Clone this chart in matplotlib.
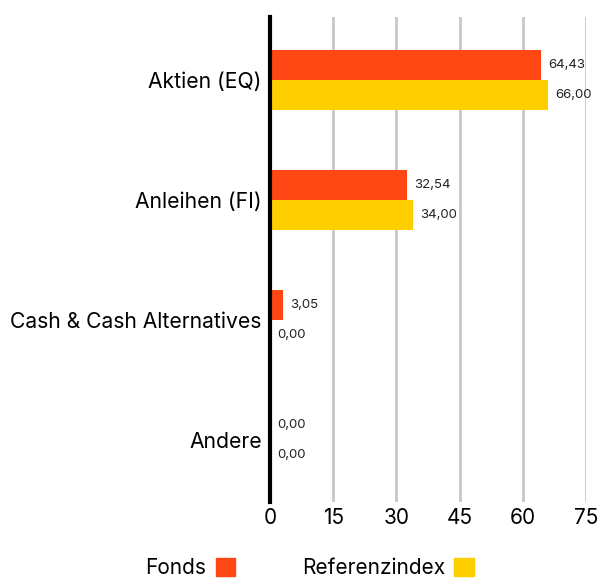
import numpy as np
import matplotlib.pyplot as plt
from matplotlib.patches import Patch

# ---- Data -------------------------------------------------------------------
categories = ["Aktien (EQ)", "Anleihen (FI)", "Cash & Cash Alternatives", "Andere"]
fonds = [64.43, 32.54, 3.05, 0.00]
referenz = [66.00, 34.00, 0.00, 0.00]
series_names = ["Fonds", "Referenzindex"]
xticks = [0, 15, 30, 45, 60, 75]

orange = "#FF4713"
yellow = "#FFCE00"

plt.rcParams["font.family"] = ["Inter", "DejaVu Sans"]

fig = plt.figure(figsize=(5.98, 5.83), dpi=100)
ax = fig.add_axes([0.4515, 0.139, 0.5285, 0.832])

y = np.arange(len(categories))
h = 0.25
ax.barh(y - h / 2, fonds, height=h, color=orange, label=series_names[0])
ax.barh(y + h / 2, referenz, height=h, color=yellow, label=series_names[1])

def fmt(v):
    return f"{v:.2f}".replace(".", ",")

for yi, v in zip(y - h / 2, fonds):
    ax.annotate(fmt(v), (v, yi), xytext=(5, 0), textcoords="offset points",
                va="center", ha="left", fontsize=9.5, color="#222222")
for yi, v in zip(y + h / 2, referenz):
    ax.annotate(fmt(v), (v, yi), xytext=(5, 0), textcoords="offset points",
                va="center", ha="left", fontsize=9.5, color="#222222")

ax.set_xlim(0, 75)
ax.set_ylim(3.52, -0.525)
ax.set_xticks(xticks)
ax.set_yticks(y)
ax.set_yticklabels(categories, fontsize=15.2)
ax.tick_params(axis="x", length=0, labelsize=15, pad=4)
ax.tick_params(axis="y", length=0, pad=6)

ax.grid(axis="x", color="#c8c8c8", linewidth=2)
ax.set_axisbelow(True)
for s in ["top", "right", "bottom"]:
    ax.spines[s].set_visible(False)
ax.spines["left"].set_linewidth(3)
ax.spines["left"].set_color("black")
ax.spines["left"].set_zorder(5)

handles = [Patch(color=orange), Patch(color=yellow)]
fig.legend(handles, series_names, loc="center", bbox_to_anchor=(0.518, 0.026),
           ncol=2, frameon=False, markerfirst=False, fontsize=15,
           handlelength=0.95, handleheight=0.95, handletextpad=0.45,
           columnspacing=3.2)

plt.savefig("out.png", dpi=100)
